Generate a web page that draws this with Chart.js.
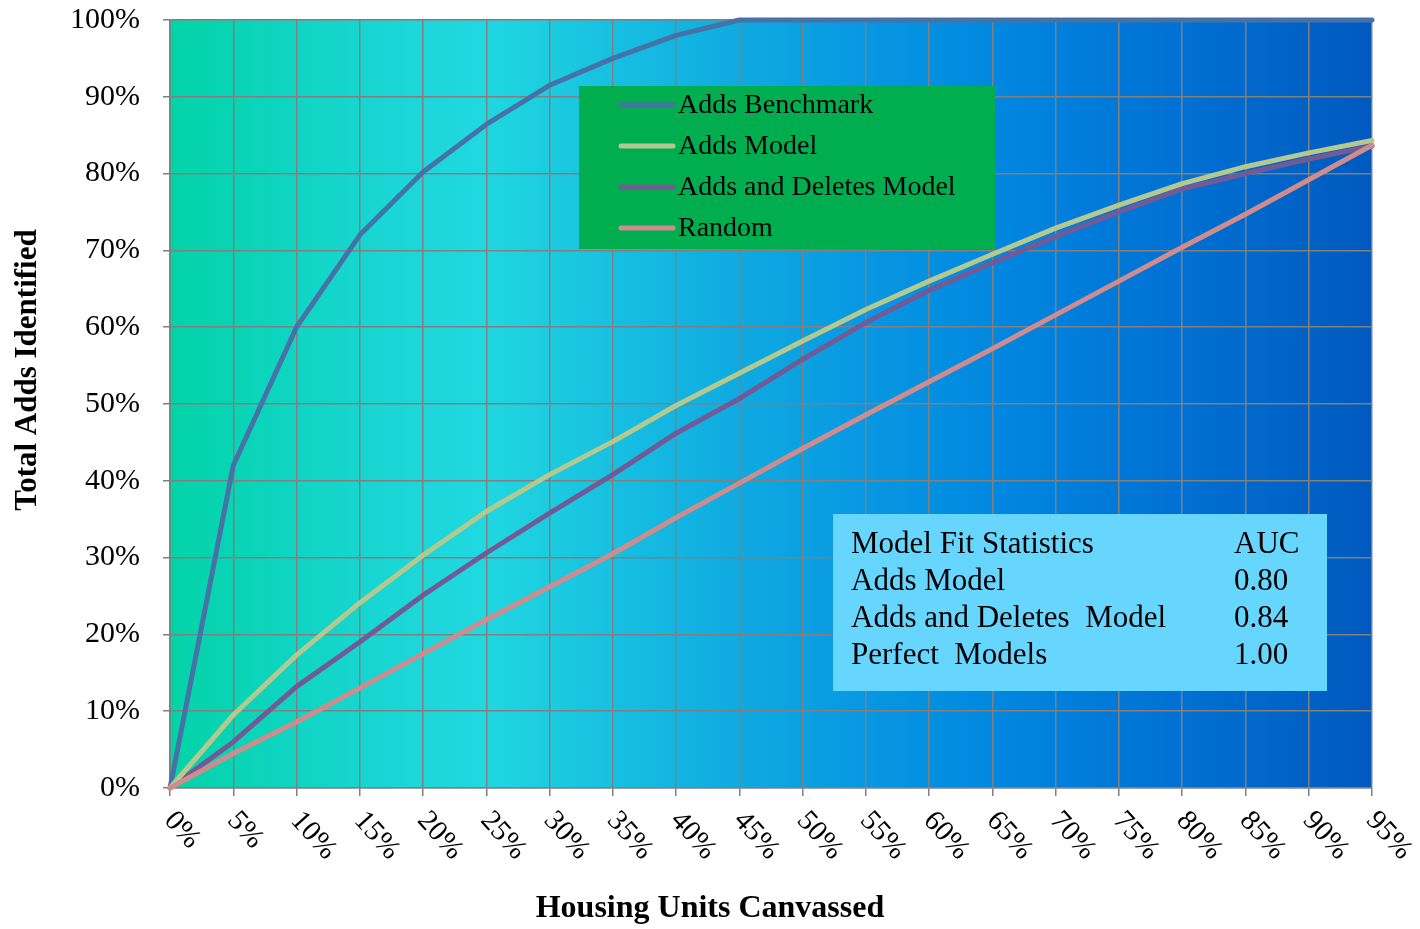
<!DOCTYPE html>
<html>
<head>
<meta charset="utf-8">
<script src="https://cdn.jsdelivr.net/npm/chart.js@4.4.1/dist/chart.umd.min.js"></script>
<style>
  html, body { margin: 0; padding: 0; background: #ffffff; }
  #wrap { width: 1420px; height: 929px; }
</style>
</head>
<body>
<div id="wrap"><canvas id="lift" width="1420" height="929"></canvas></div>
<script>
// Share of housing units canvassed (x categories)
const canvassed = ['0%','5%','10%','15%','20%','25%','30%','35%','40%','45%',
                   '50%','55%','60%','65%','70%','75%','80%','85%','90%','95%'];

// Cumulative share of adds identified, in percent
const addsBenchmark = [0, 42, 60, 72, 80.2, 86.4, 91.5, 95, 98, 100,
                       100, 100, 100, 100, 100, 100, 100, 100, 100, 100];
const addsModel = [0, 9.5, 17.3, 24.1, 30.3, 36.0, 40.8, 45.1, 49.8, 54.0,
                   58.2, 62.3, 66.0, 69.5, 72.9, 75.9, 78.7, 80.9, 82.7, 84.3];
const addsDeletesModel = [0, 6.0, 13.2, 19.0, 25.1, 30.6, 35.8, 40.8, 46.2, 50.7,
                          55.8, 60.6, 64.8, 68.4, 71.8, 75.0, 78.0, 80.0, 81.9, 83.6];
const randomOrder = [0, 4.5, 8.6, 13.0, 17.5, 21.9, 26.2, 30.5, 35.2, 39.7,
                     44.2, 48.6, 52.9, 57.2, 61.6, 66.0, 70.4, 74.7, 79.2, 83.7];

// Y tick values
const yTicks = [0, 10, 20, 30, 40, 50, 60, 70, 80, 90, 100];

// Axis titles
const xTitle = 'Housing Units Canvassed';
const yTitle = 'Total Adds Identified';

// AUC summary table
const statHeader = ['Model Fit Statistics', 'AUC'];
const statNames = ['Adds Model', 'Adds and Deletes  Model', 'Perfect  Models'];
const statValues = ['0.80', '0.84', '1.00'];

const SERIF = '"Liberation Serif", "Times New Roman", Times, serif';
const GRID = '#808080';

// Plot background: teal to deep blue sweep
const bgPlugin = {
  id: 'plotBackground',
  beforeDraw(chart) {
    const { ctx, chartArea: a } = chart;
    const g = ctx.createLinearGradient(a.left, 0, a.right, 0);
    [[0, '#04D3A6'], [0.05, '#08D4B4'], [0.11, '#10D5C4'], [0.2, '#1CD6D8'],
     [0.26, '#20D8E0'], [0.32, '#1BCBE0'], [0.37, '#17BFE1'], [0.48, '#0EA9E1'],
     [0.58, '#0897E2'], [0.69, '#0087E0'], [0.79, '#0078D8'], [0.9, '#0068CC'],
     [1, '#0059BE']].forEach(([p, c]) => g.addColorStop(p, c));
    ctx.save();
    ctx.fillStyle = g;
    ctx.fillRect(a.left, a.top, a.right - a.left, a.bottom - a.top);
    ctx.restore();
  }
};

// Slanted category labels under the x axis, plus both axis titles
const axisTextPlugin = {
  id: 'axisText',
  afterDraw(chart) {
    const { ctx, chartArea: a, width } = chart;
    const xs = chart.scales.x;
    ctx.save();
    ctx.fillStyle = '#000';
    ctx.font = '29px ' + SERIF;
    ctx.textAlign = 'left';
    ctx.textBaseline = 'middle';
    xs.ticks.forEach((t, i) => {
      const px = xs.getPixelForTick(i);
      ctx.save();
      ctx.translate(px - 1, a.bottom + 28);
      ctx.rotate(48 * Math.PI / 180);
      ctx.fillText(canvassed[i], 0, 0);
      ctx.restore();
    });
    // x title, centred on the page
    ctx.font = 'bold 32px ' + SERIF;
    ctx.textAlign = 'center';
    ctx.fillText(xTitle, width / 2, a.bottom + 121);
    // y title
    ctx.font = 'bold 31px ' + SERIF;
    ctx.save();
    ctx.translate(a.left - 142, a.top + 350);
    ctx.rotate(-Math.PI / 2);
    ctx.fillText(yTitle, 0, 0);
    ctx.restore();
    ctx.restore();
  }
};

// Legend panel and AUC table drawn inside the plot
const panelPlugin = {
  id: 'panels',
  afterDatasetsDraw(chart) {
    const { ctx, chartArea: a } = chart;
    ctx.save();
    // legend panel
    const lx = a.left + 409, ly = a.top + 66, lw = 416, lh = 163;
    ctx.fillStyle = '#00AE50';
    ctx.fillRect(lx, ly, lw, lh);
    ctx.font = '28px ' + SERIF;
    ctx.textBaseline = 'middle';
    ctx.textAlign = 'left';
    chart.data.datasets.forEach((ds, i) => {
      const y = ly + 19 + i * 41;
      ctx.strokeStyle = ds.borderColor;
      ctx.lineWidth = 5;
      ctx.lineCap = 'round';
      ctx.beginPath();
      ctx.moveTo(lx + 42, y);
      ctx.lineTo(lx + 94, y);
      ctx.stroke();
      ctx.fillStyle = '#000';
      ctx.fillText(ds.label, lx + 99, y + 1);
    });
    // AUC table
    const tx = a.left + 663, ty = a.top + 494, tw = 494, th = 177;
    ctx.fillStyle = '#66D6FF';
    ctx.fillRect(tx, ty, tw, th);
    ctx.fillStyle = '#000';
    ctx.font = '31px ' + SERIF;
    const rows = [statHeader].concat(statNames.map((n, i) => [n, statValues[i]]));
    rows.forEach((r, i) => {
      const y = ty + 31 + i * 37;
      ctx.fillText(r[0], tx + 18, y);
      ctx.fillText(r[1], tx + 401, y);
    });
    ctx.restore();
  }
};

const lineStyle = (label, data, color, order) => ({
  label, data,
  borderColor: color,
  backgroundColor: color,
  borderWidth: 5,
  pointRadius: 0,
  pointHoverRadius: 0,
  tension: 0,
  fill: false,
  clip: false,
  borderCapStyle: 'round',
  borderJoinStyle: 'round',
  order
});

new Chart(document.getElementById('lift'), {
  type: 'line',
  data: {
    labels: canvassed,
    datasets: [
      lineStyle('Adds Benchmark', addsBenchmark, '#4672A8', 3),
      lineStyle('Adds Model', addsModel, '#B5C98F', 1),
      lineStyle('Adds and Deletes Model', addsDeletesModel, '#715A95', 2),
      lineStyle('Random', randomOrder, '#D08C8C', 0)
    ]
  },
  options: {
    responsive: false,
    animation: false,
    devicePixelRatio: 1,
    layout: { padding: { top: 20, right: 48, left: 0, bottom: 0 } },
    plugins: {
      legend: { display: false },
      tooltip: { enabled: false },
      title: { display: false }
    },
    scales: {
      x: {
        type: 'category',
        offset: false,
        grid: { color: GRID, lineWidth: 1.5, tickLength: 8, drawTicks: true },
        border: { color: GRID, width: 1.5 },
        ticks: { display: false },
        afterFit(s) { s.height = 141; }
      },
      y: {
        min: 0, max: 100,
        afterBuildTicks(s) { s.ticks = yTicks.map(v => ({ value: v })); },
        ticks: {
          color: '#000',
          font: { family: SERIF, size: 30 },
          padding: 23,
          callback: v => v + '%'
        },
        grid: { color: GRID, lineWidth: 1.5, tickLength: 7, drawTicks: true },
        border: { color: GRID, width: 1.5 },
        afterFit(s) { s.width = 170; s.paddingTop = 0; s.paddingBottom = 0; }
      }
    }
  },
  plugins: [bgPlugin, axisTextPlugin, panelPlugin]
});
</script>
</body>
</html>
